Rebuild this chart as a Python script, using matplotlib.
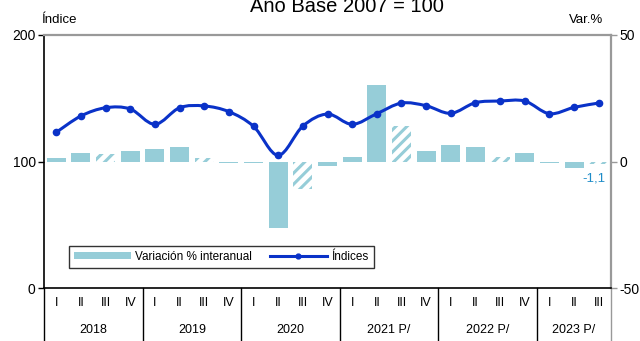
import numpy as np
import matplotlib
matplotlib.use('Agg')
import matplotlib.pyplot as plt
from matplotlib.path import Path
from matplotlib.patches import PathPatch, Patch
from matplotlib.lines import Line2D

# ── data ──
years = ['2018', '2019', '2020', '2021 P/', '2022 P/', '2023 P/']
quarters_per_year = [4, 4, 4, 4, 4, 3]
roman = ['I', 'II', 'III', 'IV']

indices = [123.1, 136.0, 142.5, 141.5,
           129.4, 142.5, 143.9, 139.4,
           127.8, 104.9, 128.0, 137.5,
           129.4, 137.8, 146.2, 144.1,
           138.1, 146.5, 147.8, 147.8,
           137.8, 142.8, 146.2]

variacion = [1.5, 3.2, 3.0, 4.0,
             4.9, 5.7, 1.5, -0.5,
             -0.5, -26.2, -10.8, -1.8,
             1.6, 30.2, 14.0, 4.1,
             6.5, 5.7, 1.7, 3.2,
             -0.5, -2.4, -1.1]

BAR_C = '#96CDD8'
LINE_C = '#0A32C8'
plt.rcParams['font.family'] = ['Liberation Sans', 'DejaVu Sans']
plt.rcParams['axes.unicode_minus'] = False
plt.rcParams['hatch.linewidth'] = 2.2


def smooth_path(x, y):
    # Excel-like smoothed line: Catmull-Rom segments as cubic Bezier
    x = np.asarray(x, float)
    y = np.asarray(y, float)
    px = np.concatenate([[x[0]], x, [x[-1]]])
    py = np.concatenate([[y[0]], y, [y[-1]]])
    verts = [(x[0], y[0])]
    codes = [Path.MOVETO]
    for i in range(1, len(px) - 2):
        c1 = (px[i] + (px[i + 1] - px[i - 1]) / 6, py[i] + (py[i + 1] - py[i - 1]) / 6)
        c2 = (px[i + 1] - (px[i + 2] - px[i]) / 6, py[i + 1] - (py[i + 2] - py[i]) / 6)
        verts += [c1, c2, (px[i + 1], py[i + 1])]
        codes += [Path.CURVE4] * 3
    return Path(verts, codes)


n = len(indices)
xs = np.arange(n)

fig = plt.figure(figsize=(6.4, 3.41), dpi=100)
ax = fig.add_axes([44 / 640, 53 / 341, 567 / 640, 253 / 341])
ax2 = ax.twinx()
ax.set_zorder(ax2.get_zorder() + 1)
ax.patch.set_visible(False)

# bars on right axis, Q3 bars hatched
for i, v in enumerate(variacion):
    if i % 4 == 2:
        ax2.bar(i, v, width=0.77, color='white', edgecolor=BAR_C,
                hatch='///', linewidth=0)
    else:
        ax2.bar(i, v, width=0.77, color=BAR_C, linewidth=0)
ax2.text(n - 1.2, variacion[-1] - 3.2, '-1,1', color='#1E8CC8', fontsize=9.5,
         ha='center', va='top')

# smoothed index line on left axis
ax.add_patch(PathPatch(smooth_path(xs, indices), fill=False, edgecolor=LINE_C,
                       linewidth=2.2, capstyle='round'))
ax.plot(xs, indices, 'o', color=LINE_C, markersize=4.5)

ax.set_xlim(-0.5, n - 0.5)
ax.set_ylim(0, 200)
ax.set_yticks([0, 100, 200])
ax2.set_ylim(-50, 50)
ax2.set_yticks([-50, 0, 50])
ax.set_xticks([])
for a in (ax, ax2):
    a.tick_params(axis='y', labelsize=10, length=4, width=1, pad=2)
ax.tick_params(axis='y', colors='black')
ax2.tick_params(axis='y', color='#999999', labelcolor='black')

for s in ('left', 'bottom'):
    ax.spines[s].set_color('black')
    ax.spines[s].set_linewidth(1.2)
ax.spines['top'].set_color('#999999')
ax.spines['top'].set_linewidth(1.6)
ax.spines['right'].set_visible(False)
ax2.spines['right'].set_color('#999999')
ax2.spines['right'].set_linewidth(1.6)
for s in ('left', 'bottom', 'top'):
    ax2.spines[s].set_visible(False)

# two-level category axis
tr = ax.get_xaxis_transform()
pos = 0
bounds = [-0.5]
for yr, nq in zip(years, quarters_per_year):
    for q in range(nq):
        ax.text(pos + q, -0.06, roman[q], transform=tr, ha='center', va='center',
                fontsize=9)
    ax.text(pos + (nq - 1) / 2, -0.166, yr, transform=tr, ha='center', va='center',
            fontsize=9)
    pos += nq
    bounds.append(pos - 0.5)
for b in bounds:
    col = '#999999' if b == bounds[-1] else 'black'
    ax.plot([b, b], [0, -0.22], transform=tr, color=col, linewidth=1,
            clip_on=False)

# axis titles
fig.text(41 / 640, 1 - 20 / 341, 'Índice', fontsize=9.5, va='center', ha='left')
fig.text(603 / 640, 1 - 20 / 341, 'Var.%', fontsize=9.5, va='center', ha='right')
fig.text(347 / 640, 1 - 12 / 341, 'Año Base 2007 = 100', fontsize=14.5,
         ha='center', va='baseline')

handles = [Patch(facecolor=BAR_C, edgecolor='none'),
           Line2D([], [], color=LINE_C, linewidth=2.2, marker='o', markersize=3.5)]
leg = ax.legend(handles, ['Variación % interanual', 'Índices'], ncol=2,
                loc='lower left', bbox_to_anchor=(0.033, 0.055), fontsize=8.5,
                frameon=True, fancybox=False, edgecolor='black',
                handlelength=4.8, handleheight=0.6, columnspacing=1.5,
                borderpad=0.45, handletextpad=0.4)
leg.get_frame().set_linewidth(1)

fig.savefig('out.png', dpi=100)
